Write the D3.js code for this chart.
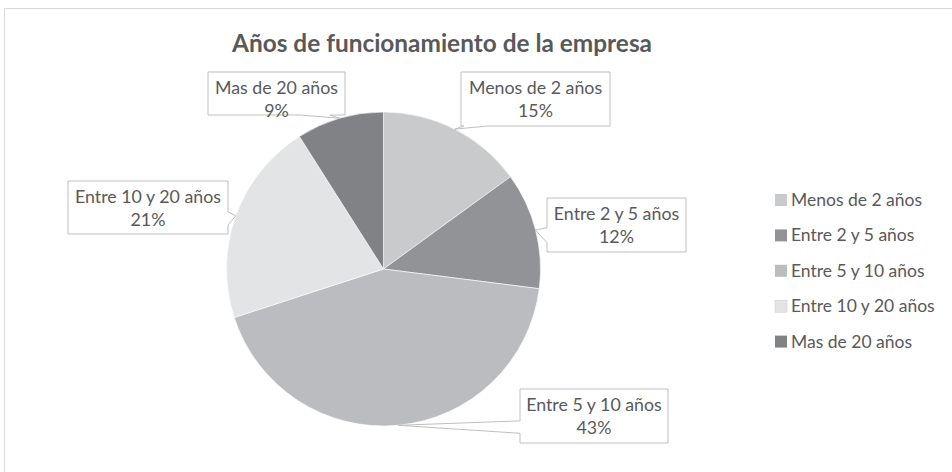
<!DOCTYPE html>
<html>
<head>
<meta charset="utf-8">
<script src="https://cdn.jsdelivr.net/npm/d3@7"></script>
<style>
    body { margin: 0; background: #fff; }
    text { font-family: Lato, "Open Sans", sans-serif; fill: #595959; }
</style>
</head>
<body>
<div id="chart"></div>
<script>
// Data
const categories = ["Menos de 2 años", "Entre 2 y 5 años", "Entre 5 y 10 años", "Entre 10 y 20 años", "Mas de 20 años"];
const shares = [15, 12, 43, 21, 9];
const sliceColors = ["#c9cacc", "#929396", "#bbbcbf", "#e3e4e6", "#818285"];
const chartTitle = "Años de funcionamiento de la empresa";

// Callout boxes (layout only): box + where the pointer leaves the box
const callouts = [
    { x: 461, y: 72, w: 149, h: 54, side: "bottom", a: 0.02, b: 0.18 },
    { x: 547, y: 198, w: 139, h: 54, side: "left", a: 0.55, b: 0.83 },
    { x: 520, y: 389, w: 148, h: 54, side: "left", a: 0.59, b: 0.82 },
    { x: 68, y: 181, w: 160, h: 53, side: "right", a: 0.58, b: 0.83 },
    { x: 208, y: 72, w: 137, h: 43, side: "bottom", a: 0.67, b: 0.89 }
];

const width = 952, height = 472;
const cx = 383.5, cy = 269, radius = 157;

const svg = d3.select("#chart")
    .append("svg")
    .attr("width", width)
    .attr("height", height);

// Chart area border
svg.append("rect")
    .attr("x", 4.5)
    .attr("y", 8.5)
    .attr("width", width + 10)
    .attr("height", height + 10)
    .attr("fill", "none")
    .attr("stroke", "#d9d9d9");

// Title
svg.append("text")
    .attr("x", 442)
    .attr("y", 52)
    .attr("text-anchor", "middle")
    .attr("font-size", "24.4px")
    .attr("font-weight", "bold")
    .text(chartTitle);

const data = categories.map((c, i) => ({ name: c, value: shares[i], color: sliceColors[i] }));

const pie = d3.pie().value((d) => d.value).sort(null);
const arc = d3.arc().innerRadius(0).outerRadius(radius);
const arcs = pie(data);

const g = svg.append("g").attr("transform", `translate(${cx},${cy})`);

g.selectAll("path")
    .data(arcs)
    .join("path")
    .attr("d", arc)
    .attr("fill", (d) => d.data.color)
    .attr("stroke", "#ffffff")
    .attr("stroke-width", 0.6);

// Callout labels with pointers to the middle of each slice edge
arcs.forEach((d, i) => {
    const c = callouts[i];
    const mid = (d.startAngle + d.endAngle) / 2;
    const tx = cx + radius * Math.sin(mid);
    const ty = cy - radius * Math.cos(mid);
    const x0 = c.x, y0 = c.y, x1 = c.x + c.w, y1 = c.y + c.h;
    let pts;
    if (c.side === "bottom") {
        const pa = x0 + c.w * c.a, pb = x0 + c.w * c.b;
        pts = [[x0, y0], [x1, y0], [x1, y1], [pb, y1], [tx, ty], [pa, y1], [x0, y1]];
    } else if (c.side === "left") {
        const pa = y0 + c.h * c.a, pb = y0 + c.h * c.b;
        pts = [[x0, y0], [x1, y0], [x1, y1], [x0, y1], [x0, pb], [tx, ty], [x0, pa]];
    } else {
        const pa = y0 + c.h * c.a, pb = y0 + c.h * c.b;
        pts = [[x0, y0], [x1, y0], [x1, pa], [tx, ty], [x1, pb], [x1, y1], [x0, y1]];
    }
    svg.append("path")
        .attr("d", "M" + pts.map((p) => p.join(",")).join("L") + "Z")
        .attr("fill", "#ffffff")
        .attr("stroke", "#bfbfbf")
        .attr("stroke-width", 1);

    const label = svg.append("text")
        .attr("text-anchor", "middle")
        .attr("font-size", "17.8px");
    label.append("tspan")
        .attr("x", x0 + c.w / 2)
        .attr("y", y0 + 22)
        .text(d.data.name);
    label.append("tspan")
        .attr("x", x0 + c.w / 2)
        .attr("y", y0 + 45)
        .text(d.data.value + "%");
});

// Legend
const legend = svg.append("g").attr("transform", "translate(775,200)");
const rows = legend.selectAll("g")
    .data(data)
    .join("g")
    .attr("transform", (d, i) => `translate(0,${i * 35.4})`);

rows.append("rect")
    .attr("x", 0)
    .attr("y", -6)
    .attr("width", 12)
    .attr("height", 12)
    .attr("fill", (d) => d.color)
    .attr("stroke", (d, i) => (i === 3 ? "#c8c8c8" : "none"))
    .attr("stroke-width", 0.5);

rows.append("text")
    .attr("x", 16)
    .attr("y", 6)
    .attr("font-size", "17.5px")
    .text((d) => d.name);
</script>
</body>
</html>
